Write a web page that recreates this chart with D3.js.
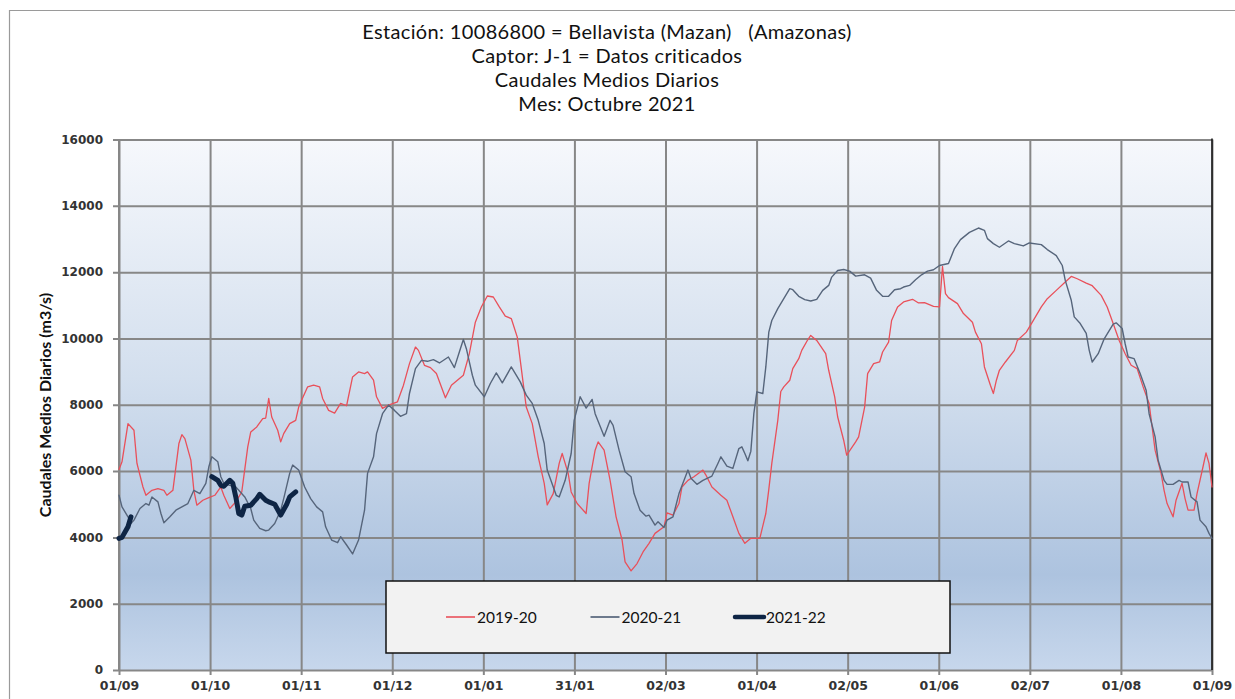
<!DOCTYPE html>
<html>
<head>
<meta charset="utf-8">
<script src="https://cdn.jsdelivr.net/npm/d3@7"></script>
<style>
  body { margin: 0; background: #fff; overflow: hidden; }
  text { font-family: Lato, "Open Sans", sans-serif; }
</style>
</head>
<body>
<div id="chart"></div>
<script>
// Chart data
const titleLines = [
    'Estación: 10086800 = Bellavista (Mazan)   (Amazonas)',
    'Captor: J-1 = Datos criticados',
    'Caudales Medios Diarios',
    'Mes: Octubre 2021'
];
const yTitle = 'Caudales Medios Diarios (m3/s)';
const xTickLabels = ['01/09', '01/10', '01/11', '01/12', '01/01', '31/01', '02/03',
                     '01/04', '02/05', '01/06', '02/07', '01/08', '01/09'];
const yTicks = [0, 2000, 4000, 6000, 8000, 10000, 12000, 14000, 16000];
const seriesNames = ['2019-20', '2020-21', '2021-22'];

// [day since 01/09, caudal m3/s]
const q1920 = [[0,6050],[1,6280],[3,7430],[5,7230],[6,6230],[8,5520],[9,5270],[11,5420],[13,5470],[15,5420],[16,5270],[18,5420],[20,6830],[21,7100],[22,6980],[24,6330],[25,5420],[26,4970],[28,5120],[30,5200],[32,5270],[34,5520],[35,5270],[37,4870],[39,5070],[41,5370],[43,6730],[44,7180],[46,7330],[48,7580],[49,7600],[50,8190],[51,7630],[53,7230],[54,6880],[55,7130],[57,7430],[59,7530],[60,7930],[61,8140],[63,8540],[65,8590],[67,8540],[68,8190],[70,7830],[72,7750],[74,8040],[76,7970],[78,8840],[80,8990],[82,8940],[83,8990],[85,8740],[86,8240],[88,7890],[90,7990],[93,8090],[95,8590],[97,9240],[99,9740],[100,9640],[102,9190],[104,9120],[106,8940],[109,8210],[111,8590],[113,8740],[115,8890],[117,9540],[119,10490],[121,10950],[123,11280],[125,11250],[127,10950],[129,10670],[131,10600],[133,10040],[134,9340],[136,7930],[138,7430],[140,6430],[142,5630],[143,4980],[145,5320],[147,6230],[148,6530],[150,5930],[151,5370],[153,5020],[156,4720],[157,5630],[159,6630],[160,6880],[162,6630],[164,5720],[166,4620],[168,3920],[169,3260],[171,2990],[173,3210],[175,3560],[177,3820],[179,4120],[182,4320],[183,4740],[185,4670],[187,5020],[188,5520],[190,5720],[192,5830],[195,6030],[196,5880],[198,5520],[201,5270],[203,5120],[205,4620],[207,4120],[209,3820],[211,3970],[214,3970],[216,4720],[217,5450],[218,6230],[220,7530],[221,8400],[222,8540],[224,8740],[225,9090],[227,9390],[228,9640],[230,9960],[231,10090],[233,9940],[236,9540],[237,9040],[239,8240],[240,7630],[242,6930],[243,6480],[246,6880],[247,7030],[249,7930],[250,8940],[252,9240],[254,9290],[255,9590],[257,9890],[258,10540],[260,10950],[262,11100],[265,11180],[267,11070],[269,11080],[272,10970],[274,10950],[275,12170],[276,11350],[277,11230],[280,11050],[282,10750],[285,10490],[286,10190],[288,9840],[289,9140],[291,8590],[292,8340],[293,8740],[294,9040],[296,9290],[299,9640],[300,9940],[303,10190],[305,10490],[308,10950],[310,11200],[313,11450],[316,11700],[318,11870],[320,11800],[323,11670],[325,11590],[328,11300],[330,10950],[332,10450],[334,9940],[336,9540],[338,9190],[340,9090],[342,8540],[344,8040],[345,7330],[346,6630],[348,5930],[349,5420],[350,5020],[352,4620],[353,5120],[355,5630],[356,5170],[357,4820],[359,4820],[360,5320],[362,6130],[363,6550],[364,6230],[365,5520]];

const q2021 = [[0,5270],[1,4920],[3,4620],[4,4420],[5,4520],[7,4870],[9,5020],[10,4970],[11,5220],[13,5070],[14,4720],[15,4440],[17,4620],[19,4820],[21,4920],[23,5020],[25,5420],[27,5320],[29,5630],[30,6130],[31,6430],[33,6280],[34,5830],[35,5630],[37,5570],[39,5520],[40,5420],[42,5220],[44,4870],[45,4520],[47,4270],[49,4200],[50,4220],[52,4420],[54,4820],[55,5170],[57,5930],[58,6180],[60,6030],[62,5520],[64,5170],[66,4920],[68,4770],[69,4320],[71,3920],[73,3840],[74,4020],[76,3770],[78,3500],[80,3920],[82,4820],[83,5930],[85,6430],[86,7130],[88,7730],[90,7990],[92,7830],[94,7650],[96,7730],[97,8340],[99,9090],[101,9340],[103,9310],[105,9360],[107,9260],[110,9440],[112,9120],[114,9690],[115,9970],[116,9690],[118,8890],[119,8590],[122,8240],[124,8640],[126,8960],[128,8660],[131,9140],[134,8690],[136,8290],[138,8040],[140,7530],[142,6830],[143,6030],[146,5270],[147,5220],[149,5720],[151,6530],[152,7530],[154,8240],[156,7900],[158,8160],[159,7730],[162,7050],[164,7530],[165,7380],[167,6630],[169,5980],[171,5830],[172,5320],[174,4820],[176,4640],[177,4670],[179,4370],[180,4470],[182,4300],[183,4520],[185,4620],[187,5320],[190,6030],[191,5780],[193,5600],[195,5720],[198,5850],[200,6230],[201,6430],[203,6150],[205,6080],[207,6680],[208,6730],[209,6530],[210,6310],[211,6600],[212,7730],[213,8390],[215,8340],[216,9140],[217,10190],[218,10540],[220,10900],[222,11200],[224,11500],[225,11470],[227,11270],[229,11170],[231,11130],[233,11180],[235,11450],[237,11600],[238,11850],[240,12050],[242,12080],[244,12030],[246,11880],[249,11920],[251,11820],[253,11450],[255,11270],[257,11270],[259,11470],[261,11500],[262,11550],[264,11600],[266,11770],[268,11920],[270,12030],[272,12070],[274,12200],[277,12260],[279,12710],[281,12980],[284,13200],[287,13330],[289,13260],[290,13010],[292,12860],[294,12750],[297,12940],[299,12860],[302,12790],[304,12880],[308,12830],[310,12680],[313,12500],[315,12200],[316,11750],[318,11150],[319,10650],[321,10450],[323,10150],[324,9640],[325,9290],[327,9540],[329,9990],[332,10430],[333,10470],[335,10300],[336,9840],[337,9440],[339,9390],[341,8940],[343,8440],[344,7730],[346,7030],[347,6330],[349,5720],[350,5600],[352,5600],[354,5720],[355,5670],[357,5670],[358,5220],[360,5070],[361,4520],[363,4320],[364,4120],[365,3970]];

// null marks the days without data
const q2122 = [[0,3970],[1,4000],[3,4320],[4,4620],[5,null],[31,5830],[33,5720],[34,5570],[35,5540],[37,5720],[38,5630],[39,5220],[40,4720],[41,4670],[42,4940],[44,4970],[46,5170],[47,5300],[49,5120],[50,5070],[52,5000],[54,4670],[56,5000],[57,5220],[59,5370]];

const seriesData = [q1920, q2021, q2122];
const seriesColors = ['#e9505a', '#56657b', '#0e2545'];
const seriesWidths = [1.3, 1.4, 5];

// Layout
const width = 1235, height = 699;
const margin = { top: 139.5, right: 23, bottom: 29, left: 119 };
const innerWidth = width - margin.left - margin.right;
const innerHeight = height - margin.top - margin.bottom;

const svg = d3.select('#chart').append('svg')
    .attr('width', width)
    .attr('height', height)
    .style('display', 'block');

// gradient for plot background
const grad = svg.append('defs').append('linearGradient')
    .attr('id', 'bg').attr('x1', 0).attr('y1', 0).attr('x2', 0).attr('y2', 1);
grad.append('stop').attr('offset', '0%').attr('stop-color', '#f6f8fc');
grad.append('stop').attr('offset', '45%').attr('stop-color', '#d3dfee');
grad.append('stop').attr('offset', '82%').attr('stop-color', '#adc3df');
grad.append('stop').attr('offset', '100%').attr('stop-color', '#c7d7ec');

// outer frame (runs past the right and bottom edges)
svg.append('path')
    .attr('d', `M${width},10.5 H9.5 V${height}`)
    .attr('fill', 'none')
    .attr('stroke', '#9a9a9a')
    .attr('stroke-width', 1.2);

// titles
svg.append('g').selectAll('text')
    .data(titleLines)
    .enter()
    .append('text')
    .attr('x', 607)
    .attr('y', (d, i) => 39 + i * 24)
    .attr('text-anchor', 'middle')
    .style('font-size', '20px')
    .style('letter-spacing', '0.35px')
    .style('fill', '#111')
    .style('white-space', 'pre')
    .text(d => d);

const g = svg.append('g')
    .attr('transform', `translate(${margin.left},${margin.top})`);

const xScale = d3.scaleLinear().domain([0, 365]).range([0, innerWidth]);
const yScale = d3.scaleLinear().domain([0, 16000]).range([innerHeight, 0]);
const xTicks = xTickLabels.map((d, i) => i * 365 / 12);

g.append('rect')
    .attr('width', innerWidth)
    .attr('height', innerHeight)
    .attr('fill', 'url(#bg)');

// grid lines
g.append('g')
    .attr('class', 'grid')
    .attr('transform', `translate(0,${innerHeight})`)
    .call(d3.axisBottom(xScale).tickValues(xTicks).tickSize(5).tickFormat('').tickSizeOuter(0))
    .call(a => a.select('.domain').remove())
    .call(a => a.selectAll('line').attr('y1', -innerHeight).attr('y2', 5)
        .attr('stroke', '#878787').attr('stroke-width', 2));

g.append('g')
    .attr('class', 'grid')
    .call(d3.axisLeft(yScale).tickValues(yTicks).tickSize(0).tickFormat(''))
    .call(a => a.select('.domain').remove())
    .call(a => a.selectAll('line').attr('x1', -6).attr('x2', innerWidth)
        .attr('stroke', '#878787').attr('stroke-width', 2));

// left axis line
g.append('line')
    .attr('x1', 0).attr('x2', 0)
    .attr('y1', 0).attr('y2', innerHeight)
    .attr('stroke', '#878787').attr('stroke-width', 2);

// right border
g.append('line')
    .attr('x1', innerWidth).attr('x2', innerWidth)
    .attr('y1', -1).attr('y2', innerHeight)
    .attr('stroke', '#111').attr('stroke-width', 1.5);

// tick labels
g.append('g')
    .call(d3.axisLeft(yScale).tickValues(yTicks).tickSize(0).tickPadding(16)
        .tickFormat(d3.format('d')))
    .call(a => a.select('.domain').remove())
    .call(a => a.selectAll('text')
        .style('font-family', '"DejaVu Sans", sans-serif')
        .style('font-size', '12px')
        .style('font-weight', 'bold')
        .style('fill', '#333'));

g.append('g')
    .attr('transform', `translate(0,${innerHeight})`)
    .call(d3.axisBottom(xScale).tickValues(xTicks).tickSize(0).tickPadding(11)
        .tickFormat((d, i) => xTickLabels[i]))
    .call(a => a.select('.domain').remove())
    .call(a => a.selectAll('text')
        .style('font-family', '"DejaVu Sans", sans-serif')
        .style('font-size', '12.5px')
        .style('font-weight', 'bold')
        .style('fill', '#333'));

// Y axis title
svg.append('text')
    .attr('transform', 'rotate(-90)')
    .attr('x', -405)
    .attr('y', 51)
    .attr('text-anchor', 'middle')
    .style('font-size', '16px')
    .style('font-weight', 'bold')
    .style('fill', '#111')
    .text(yTitle);

// series lines
const line = d3.line()
    .defined(d => d[1] !== null)
    .x(d => xScale(d[0]))
    .y(d => yScale(d[1]));

seriesData.forEach((data, i) => {
    g.append('path')
        .datum(data)
        .attr('fill', 'none')
        .attr('stroke', seriesColors[i])
        .attr('stroke-width', seriesWidths[i])
        .attr('stroke-linejoin', 'round')
        .attr('stroke-linecap', 'round')
        .attr('d', line);
});

// legend
const legend = svg.append('g').attr('transform', 'translate(386,581)');
legend.append('rect')
    .attr('width', 564).attr('height', 72)
    .attr('fill', '#f2f2f2')
    .attr('stroke', '#111')
    .attr('stroke-width', 1.5);

const legendX = d3.scalePoint().domain(seriesNames).range([60, 349]);

const items = legend.selectAll('.item')
    .data(seriesNames)
    .enter()
    .append('g')
    .attr('class', 'item')
    .attr('transform', d => `translate(${legendX(d)},36)`);

items.append('line')
    .attr('x1', 0).attr('x2', 29)
    .attr('stroke', (d, i) => seriesColors[i])
    .attr('stroke-width', (d, i) => Math.min(seriesWidths[i], 4.5) + (i < 2 ? 0.3 : 0))
    .attr('stroke-linecap', (d, i) => i === 2 ? 'round' : 'butt');

items.append('text')
    .attr('x', 31)
    .attr('y', 5.5)
    .style('font-size', '15.5px')
    .style('fill', '#111')
    .text(d => d);
</script>
</body>
</html>
